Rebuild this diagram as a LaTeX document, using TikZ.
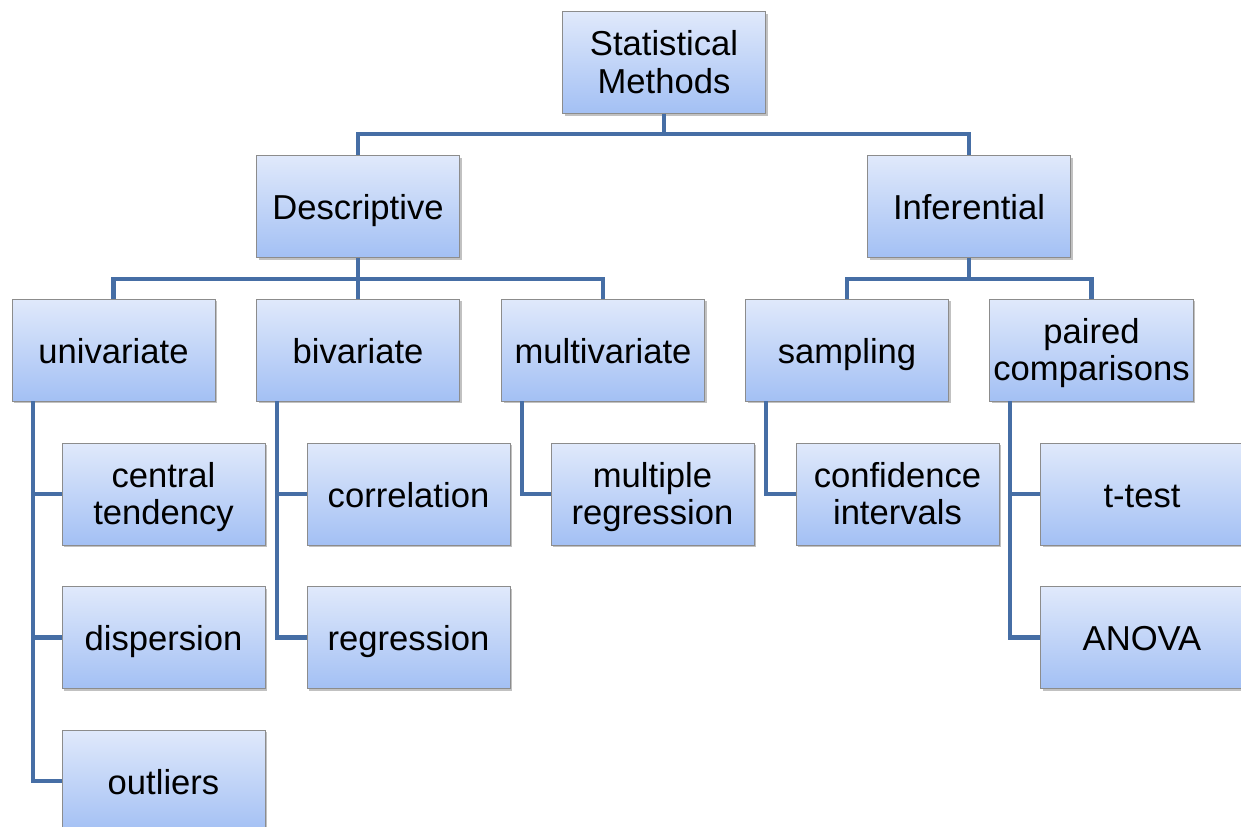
\documentclass[tikz,border=0pt]{standalone}
\usepackage{fontspec}
\setmainfont{Liberation Sans}
\usetikzlibrary{shadows}

\definecolor{boxtop}{RGB}{224,233,251}
\definecolor{boxbottom}{RGB}{163,192,244}
\definecolor{boxline}{RGB}{140,140,140}
\definecolor{linkblue}{RGB}{70,110,165}

\begin{document}
\begin{tikzpicture}[
    x=0.02cm, y=-0.02cm,
    every node/.style = {
      shape=rectangle,
      draw=boxline,
      line width=0.5pt,
      top color=boxtop,
      bottom color=boxbottom,
      align=center,
      minimum width=4.06cm,
      minimum height=2.04cm,
      inner sep=2pt,
      font=\fontsize{19.7}{21.2}\selectfont,
      execute at begin node=\rule{0pt}{20pt},
      execute at end node=\rule[-5pt]{0pt}{5pt},
      drop shadow={shadow xshift=1.2pt, shadow yshift=-1.2pt,
        opacity=0.35, fill=black!70}
    },
    twoline/.style = {
      text height=40pt
    },
    link/.style = {
      draw=linkblue,
      line width=2.3pt
    }
  ]
    \useasboundingbox (0,0) rectangle (1241,827);

    % Top node
    \node[twoline] (stat) at (664,62.5) {Statistical\\Methods};

    % The two branches
    \node (desc)  at (358,206.5) {Descriptive};
    \node (infer) at (969,206.5) {Inferential};

    % Kinds of descriptive methods
    \node (uni)   at (113.5,350) {univariate};
    \node (biv)   at (358,350)   {bivariate};
    \node (multi) at (603,350)   {multivariate};

    % Kinds of inferential methods
    \node (samp)            at (847,350)    {sampling};
    \node[twoline] (paired) at (1091.5,350) {paired\\comparisons};

    % Leaves, hanging off the left side of their parent
    \node[twoline] (central) at (163.5,494)   {central\\tendency};
    \node (disp)             at (163.5,637.5) {dispersion};
    \node (outliers)         at (163.5,781)   {outliers};
    \node (corr)             at (408.5,494)   {correlation};
    \node (regr)             at (408.5,637.5) {regression};
    \node[twoline] (multreg) at (652.5,494)   {multiple\\regression};
    \node[twoline] (conf)    at (897.5,494)   {confidence\\intervals};
    \node (ttest)            at (1142,494)    {t-test};
    \node (anova)            at (1142,637.5)  {ANOVA};

    % Tree lines
    \draw[link] (stat.south) -- ++(0,20) -| (desc.north);
    \draw[link] (stat.south) -- ++(0,20) -| (infer.north);
    \draw[link] (desc.south) -- ++(0,21) -| (uni.north);
    \draw[link] (desc.south) -- (biv.north);
    \draw[link] (desc.south) -- ++(0,21) -| (multi.north);
    \draw[link] (infer.south) -- ++(0,21) -| (samp.north);
    \draw[link] (infer.south) -- ++(0,21) -| (paired.north);

    % Side lines down to the leaves
    \draw[link] ([xshift=0.42cm]uni.south west) |- (central.west);
    \draw[link] ([xshift=0.42cm]uni.south west) |- (disp.west);
    \draw[link] ([xshift=0.42cm]uni.south west) |- (outliers.west);
    \draw[link] ([xshift=0.42cm]biv.south west) |- (corr.west);
    \draw[link] ([xshift=0.42cm]biv.south west) |- (regr.west);
    \draw[link] ([xshift=0.42cm]multi.south west) |- (multreg.west);
    \draw[link] ([xshift=0.42cm]samp.south west) |- (conf.west);
    \draw[link] ([xshift=0.42cm]paired.south west) |- (ttest.west);
    \draw[link] ([xshift=0.42cm]paired.south west) |- (anova.west);

\end{tikzpicture}
\end{document}
